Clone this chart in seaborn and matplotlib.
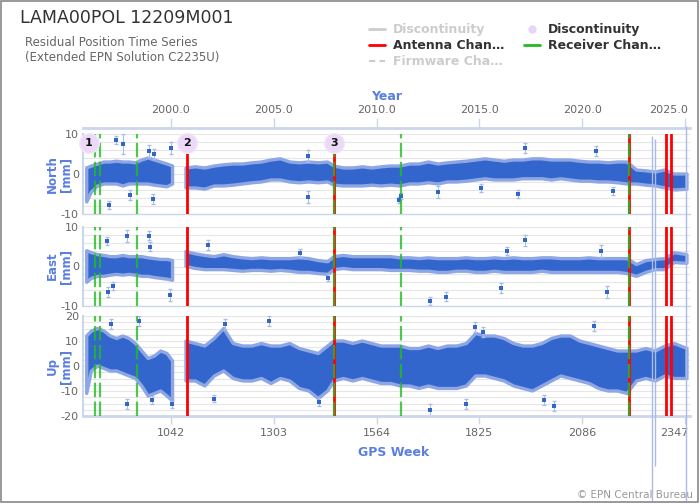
import numpy as np
import matplotlib
matplotlib.use("Agg")
import matplotlib.pyplot as plt
import matplotlib.transforms as mtransforms
from matplotlib.lines import Line2D
from matplotlib.patches import Rectangle
import seaborn as sns

# sample weeks (GPS week) at which the envelope of the residual cloud was read
weeks = [828, 840, 856, 872, 888, 904, 920, 936, 952, 968, 984, 1000, 1016, 1032, 1046,
         1063,
         1080, 1104, 1128, 1152, 1176, 1200, 1224, 1248, 1272, 1296, 1320, 1344, 1368, 1392,
         1416, 1440, 1456, 1480, 1504, 1528, 1552, 1576, 1600, 1624, 1648, 1672, 1696, 1720,
         1744, 1768, 1792, 1816, 1840, 1864, 1888, 1912, 1936, 1960, 1984, 2008, 2032, 2056,
         2080, 2104, 2128, 2152, 2176, 2200, 2224, 2248, 2272, 2296, 2320, 2352]
nan = np.nan

north_hi = [1.5, 2.0, 2.5, 3.0, 3.0, 3.2, 3.0, 3.0, 2.8, 3.5, 4.0, 3.5, 3.0, 2.5, 2.0, nan,
            1.5, 1.8, 1.5, 2.0, 2.3, 2.5, 2.5, 2.8, 3.0, 3.5, 3.8, 3.0, 2.8, 3.0, 2.8, 3.0,
            2.0, 1.5, 1.5, 1.8, 1.5, 1.8, 2.0, 2.0, 2.5, 2.5, 3.0, 2.5, 2.8, 3.0, 3.2, 3.5,
            3.8, 3.5, 3.2, 3.5, 3.5, 3.8, 3.8, 3.5, 3.5, 3.5, 3.2, 3.0, 3.0, 2.8, 3.0, 3.0,
            1.0, 0.8, 0.5, 1.0, 0.0, 0.0]
north_lo = [-7.0, -4.5, -3.0, -2.5, -2.5, -2.5, -3.0, -2.5, -2.5, -2.5, -2.5, -2.8, -3.0, -3.2, -2.5, nan,
            -3.5, -3.5, -3.8, -3.0, -3.0, -2.8, -2.5, -2.2, -2.0, -1.5, -1.5, -2.0, -2.2, -2.0, -2.2, -2.0,
            -2.8, -3.0, -3.0, -3.0, -2.8, -3.0, -2.8, -3.0, -2.5, -2.5, -2.2, -2.5, -2.0, -2.0, -1.8, -1.5,
            -1.2, -1.5, -1.5, -1.5, -1.2, -1.2, -1.2, -1.5, -1.2, -1.5, -1.8, -1.8, -2.0, -2.0, -2.2, -2.5,
            -2.5, -2.8, -3.0, -3.5, -4.0, -3.8]
east_hi = [4.0, 3.5, 3.0, 2.8, 2.5, 2.5, 2.8, 2.5, 2.5, 2.5, 2.2, 2.0, 1.8, 1.8, 1.5, nan,
           3.8, 3.2, 2.8, 2.5, 3.0, 2.5, 2.2, 2.0, 2.2, 2.0, 2.0, 2.0, 2.2, 2.0, 1.5, 1.2,
           2.5, 2.8, 2.5, 2.5, 2.5, 2.5, 2.5, 2.2, 2.2, 2.0, 2.2, 2.0, 2.0, 2.0, 2.2, 2.0,
           2.0, 2.2, 2.0, 2.2, 2.0, 2.0, 2.2, 2.2, 2.0, 2.0, 2.0, 2.2, 2.0, 2.0, 2.0, 2.0,
           0.5, 1.5, 1.8, 2.0, 3.5, 3.0]
east_lo = [-4.0, -3.0, -2.5, -2.5, -2.2, -2.0, -2.2, -2.0, -2.2, -2.5, -2.5, -2.8, -3.0, -3.2, -3.5, nan,
           0.0, -0.5, -0.8, -0.8, -0.8, -1.0, -1.2, -1.0, -1.0, -1.2, -1.0, -1.2, -1.5, -1.5, -1.8, -2.0,
           -0.8, -0.5, -0.8, -0.8, -0.8, -0.8, -1.0, -1.0, -1.0, -1.2, -1.2, -1.5, -1.5, -1.2, -1.2, -1.5,
           -1.5, -1.2, -1.5, -1.5, -1.5, -1.5, -1.2, -1.5, -1.5, -1.5, -1.5, -1.5, -1.5, -1.5, -1.5, -1.8,
           -2.5, -1.5, -0.8, -0.8, 1.0, 0.8]
up_hi = [12, 14, 15, 14, 12, 11, 12, 11, 9, 6, 3, 4, 6, 5, 2, nan,
         10, 9, 8, 11, 15, 9, 8, 8, 9, 8, 8, 9, 7, 6, 5, 8,
         10, 10, 9, 10, 9, 8, 8, 8, 7, 7, 8, 7, 8, 8, 9, 13,
         12, 12, 11, 9, 8, 8, 9, 11, 12, 12, 10, 9, 8, 7, 6, 6,
         6, 7, 6, 8, 9, 7]
up_lo = [-11, -2, 0, -1, -2, -2, -3, -4, -5, -8, -12, -11, -10, -12, -14, nan,
         -6, -6, -8, -4, -2, -5, -6, -6, -5, -7, -5, -6, -9, -10, -13, -10,
         -6, -5, -6, -5, -6, -7, -7, -8, -8, -9, -8, -9, -9, -9, -8, -4,
         -4, -5, -6, -8, -9, -10, -8, -6, -4, -5, -6, -7, -9, -10, -10, -11,
         -6, -5, -6, -4, -5, -5]

# isolated points with their error bars
north_out_w = [885, 903, 921, 938, 986, 996, 1000, 1042, 1390, 1391, 1622, 1625, 1720, 1830, 1922, 1940, 2121, 2163]
north_out_v = [-7.8, 8.5, 7.5, -5.2, 5.8, -6.2, 5.0, 6.4, 4.5, -5.8, -6.5, -5.5, -4.5, -3.5, -5.0, 6.5, 5.8, -4.2]
north_out_e = [1.0, 1.0, 2.5, 1.2, 1.5, 1.2, 1.2, 1.5, 1.5, 1.5, 0.8, 0.8, 1.5, 1.0, 1.0, 1.2, 1.2, 1.0]
east_out_w = [880, 882, 895, 930, 985, 988, 1040, 1135, 1370, 1440, 1700, 1740, 1880, 1895, 1940, 2135, 2150]
east_out_v = [6.5, -6.4, -5.0, 7.8, 7.8, 5.0, -7.2, 5.4, 3.5, -2.8, -8.8, -7.6, -5.5, 4.0, 6.6, 4.0, -6.4]
east_out_e = [1.0, 1.2, 1.0, 1.5, 1.2, 1.2, 1.5, 1.2, 1.0, 0.8, 1.0, 1.2, 1.2, 1.0, 1.5, 1.5, 1.5]
up_out_w = [890, 930, 960, 995, 1045, 1150, 1180, 1290, 1417, 1700, 1790, 1815, 1835, 1990, 2015, 2115]
up_out_v = [17, -15, 18, -13.5, -15.3, -13, 17, 18, -14.3, -17.5, -15, 15.5, 13.5, -13.5, -16, 16]
up_out_e = [2, 2, 2, 1.5, 1.5, 1.5, 2, 2, 1.5, 2.5, 2, 2, 2, 2, 2, 2]

# very large error bars near the end of the series
big_err_w = [2263, 2270, 2349]
big_err_lo = [-54, -40, -54]
big_err_hi = [92, 91, 96]

disc_weeks = [833, 1083, 1456]
disc_labels = ["1", "2", "3"]
antenna_weeks = [1083, 1456, 2204, 2298, 2312]
receiver_weeks = [849, 863, 956, 1456, 1626, 2204]

week_ticks = [1042, 1303, 1564, 1825, 2086, 2347]
year_ticks = [2000, 2005, 2010, 2015, 2020, 2025]

blue = "#3366cc"
light = "#a9bbe8"
fringe = "#8ea7e4"
label_blue = "#5a7fe0"
axis_col = "#ccd6eb"
green = "#22bb22"

sns.set_style("white")
plt.rcParams["font.family"] = ["DejaVu Sans"]
plt.rcParams["axes.unicode_minus"] = False

fig = plt.figure(figsize=(7, 5.04), dpi=100)


def box(top, bottom):
    return [83 / 700, 1 - bottom / 504, 607 / 700, (bottom - top) / 504]


ax_n = fig.add_axes(box(134, 214))
ax_e = fig.add_axes(box(227, 306))
ax_u = fig.add_axes(box(316, 416))

panels = [
    (ax_n, north_hi, north_lo, north_out_w, north_out_v, north_out_e, 10, 2, "North\n[mm]", 174),
    (ax_e, east_hi, east_lo, east_out_w, east_out_v, east_out_e, 10, 2, "East\n[mm]", 266),
    (ax_u, up_hi, up_lo, up_out_w, up_out_v, up_out_e, 20, 2.5, "Up\n[mm]", 366),
]

wk = np.array(weeks, dtype=float)
for ax, hi, lo, ow, ov, oe, lim, minor, label, ymid in panels:
    ax.set_xlim(818.6, 2359.7)
    ax.set_ylim(-lim, lim)
    ax.set_yticks(np.arange(-lim, lim + 1, 10))
    ax.set_yticks(np.arange(-lim, lim + 0.1, minor), minor=True)
    ax.grid(which="both", axis="y", color="#e6e6e6", lw=0.8)
    ax.grid(which="both", axis="x", visible=False)
    ax.set_axisbelow(True)
    for s in ["top", "right"]:
        ax.spines[s].set_visible(False)
    ax.spines["left"].set_color(axis_col)
    ax.spines["left"].set_linewidth(1.5)
    ax.spines["bottom"].set_color(axis_col)
    ax.spines["bottom"].set_linewidth(1.0)
    ax.tick_params(axis="y", which="both", length=0, labelsize=8, labelcolor="#666666", pad=3)
    ax.tick_params(axis="x", which="both", bottom=False, labelbottom=False)

    ax.fill_between(wk, np.array(lo, dtype=float), np.array(hi, dtype=float),
                    facecolor=blue, edgecolor=fringe, lw=2.4, zorder=2)
    ax.errorbar(ow, ov, yerr=oe, fmt="none", ecolor=light, elinewidth=0.7, capsize=1.2, zorder=2)
    sns.scatterplot(x=ow, y=ov, ax=ax, marker="s", s=7, color=blue, linewidth=0, legend=False, zorder=3)

    for w in antenna_weeks:
        ax.axvline(w, color="#ff0000", lw=2, zorder=4)
    for w in receiver_weeks:
        ax.axvline(w, color=green, lw=1.6, dashes=(6.5, 2), alpha=0.8, zorder=5)

    fig.text(59 / 700, 1 - ymid / 504, label, rotation=90, ha="center", va="center",
             color=label_blue, fontsize=8.5, fontweight="bold", linespacing=1.1)

# discontinuity markers
ax_n.scatter(disc_weeks, [7.8] * len(disc_weeks), s=200, color="#ecd9f7", edgecolor="#f3e6fa",
             zorder=6, clip_on=False)
for w, t in zip(disc_weeks, disc_labels):
    ax_n.text(w, 7.8, t, ha="center", va="center", fontsize=8, fontweight="bold", color="#111111", zorder=7)

# huge error bars that run outside the panel
ax_u.vlines(big_err_w, big_err_lo, big_err_hi, colors=light, lw=1, clip_on=False, zorder=6)

# bottom axis: GPS week
ax_u.set_xticks(week_ticks)
ax_u.set_xticklabels([str(w) for w in week_ticks])
ax_u.tick_params(axis="x", bottom=True, labelbottom=True, length=6, width=1, color=axis_col,
                 labelsize=8, labelcolor="#666666", pad=3)
ax_u.spines["bottom"].set_linewidth(2)
last = ax_u.get_xticklabels()[-1]
last.set_ha("right")
last.set_transform(last.get_transform() + mtransforms.ScaledTranslation(4 / 100, 0, fig.dpi_scale_trans))
fig.text(394 / 700, 1 - 452 / 504, "GPS Week", ha="center", va="center", fontweight="bold",
         color=label_blue, fontsize=9)


# top axis: year
def w2y(w):
    return 2000 + (np.asarray(w) - 1042) / 52.2


def y2w(y):
    return 1042 + (np.asarray(y) - 2000) * 52.2


sec = ax_n.secondary_xaxis(1.075, functions=(w2y, y2w))
sec.set_xticks(year_ticks)
sec.set_xticklabels([f"{y:.1f}" for y in year_ticks])
sec.tick_params(direction="out", length=7, width=1, color=axis_col, labelsize=8,
                labelcolor="#666666", pad=2)
for s in sec.spines.values():
    s.set_color(axis_col)
    s.set_linewidth(2)
last_y = sec.get_xticklabels()[-1]
last_y.set_ha("right")
last_y.set_transform(last_y.get_transform() + mtransforms.ScaledTranslation(3 / 100, 0, fig.dpi_scale_trans))
fig.text(387 / 700, 1 - 96 / 504, "Year", ha="center", va="center", fontweight="bold",
         color=label_blue, fontsize=9)

# titles
fig.text(20 / 700, 1 - 18 / 504, "LAMA00POL 12209M001", fontsize=12.5, color="#333333", va="center")
fig.text(25 / 700, 1 - 42 / 504, "Residual Position Time Series", fontsize=8.5, color="#666666", va="center")
fig.text(25 / 700, 1 - 57 / 504, "(Extended EPN Solution C2235U)", fontsize=8.5, color="#666666", va="center")

# legend
handles = [Line2D([], [], color="#cccccc", lw=2),
           Line2D([], [], color="#ff0000", lw=2),
           Line2D([], [], color="#cccccc", lw=1.5, dashes=(3, 2)),
           Line2D([], [], ls="none", marker="o", ms=5, color="#e8d4f6"),
           Line2D([], [], color=green, lw=2)]
labels = ["Discontinuity", "Antenna Chan\u2026", "Firmware Cha\u2026", "Discontinuity", "Receiver Chan\u2026"]
leg = fig.legend(handles, labels, ncol=2, loc="upper left", bbox_to_anchor=(369 / 700, 1 - 23 / 504),
                 frameon=False, prop={"weight": "bold", "size": 9}, handlelength=1.3,
                 handletextpad=0.6, columnspacing=1.6, labelspacing=0.25, borderpad=0, borderaxespad=0)
for t, c in zip(leg.get_texts(), ["#cccccc", "#333333", "#cccccc", "#333333", "#333333"]):
    t.set_color(c)

fig.text(693 / 700, 1 - 495 / 504, "\u00a9 EPN Central Bureau", ha="right", va="center",
         fontsize=7.5, color="#999999")

fig.patches.append(Rectangle((1 / 700, 2 / 504), 697 / 700, 501 / 504, transform=fig.transFigure,
                             fill=False, edgecolor="#888888", lw=1.2))

fig.savefig("out.png", dpi=100)
